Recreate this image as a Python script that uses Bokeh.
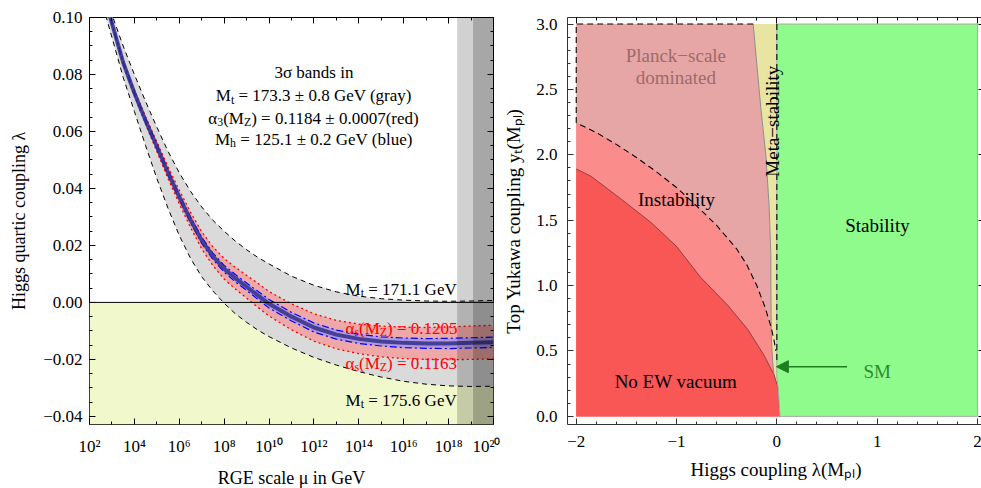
import math
import numpy as np
from bokeh.plotting import figure
from bokeh.layouts import row
from bokeh.models import (Label, BoxAnnotation, Span, Arrow, NormalHead, FixedTicker,
                          SingleIntervalTicker, LinearAxis, LogAxis, CustomJSTickFormatter, Range1d)
from bokeh.embed import file_html
from bokeh.resources import INLINE

FONT = "Liberation Serif"

# ---------------- Left panel data ----------------
log_mu = [2.24, 2.5, 3, 3.5, 4, 4.5, 5, 5.5, 6, 6.5, 7, 7.5, 8, 8.5, 9, 9.5, 10,
          11, 12, 13, 14, 15, 16, 17, 18, 19, 20]
lam_central = [0.120, 0.112, 0.098, 0.0842, 0.0735, 0.0638, 0.0547, 0.0455, 0.0370, 0.0290,
               0.0218, 0.0162, 0.0118, 0.0085, 0.0055, 0.0025, -0.0005, -0.0050, -0.0088,
               -0.0113, -0.0128, -0.0137, -0.0142, -0.0144, -0.0144, -0.0142, -0.0140]
lam_mt_1711 = [0.124, 0.115, 0.101, 0.090, 0.080, 0.0705, 0.0615, 0.053, 0.0455, 0.0390,
               0.0335, 0.0288, 0.0250, 0.0215, 0.0185, 0.0158, 0.0135, 0.0092, 0.0060,
               0.0037, 0.0022, 0.0013, 0.0008, 0.0005, 0.0004, 0.0005, 0.0007]
lam_mt_1756 = [0.116, 0.107, 0.093, 0.079, 0.067, 0.055, 0.0435, 0.033, 0.0235, 0.0155,
               0.0090, 0.0040, -0.0003, -0.0040, -0.0070, -0.0097, -0.0120, -0.0160, -0.0193,
               -0.0220, -0.0243, -0.0262, -0.0277, -0.0287, -0.0293, -0.0295, -0.0294]
lam_as_1205 = [0.1202, 0.1122, 0.0985, 0.0849, 0.0745, 0.0651, 0.0564, 0.0476, 0.0394, 0.0317,
               0.0248, 0.0195, 0.0154, 0.0123, 0.0095, 0.0067, 0.0038, -0.0005, -0.0040,
               -0.0063, -0.0076, -0.0083, -0.0087, -0.0088, -0.0086, -0.0083, -0.0080]
lam_as_1163 = [0.1198, 0.1118, 0.0975, 0.0835, 0.0725, 0.0625, 0.0530, 0.0434, 0.0346, 0.0263,
               0.0188, 0.0129, 0.0082, 0.0047, 0.0015, -0.0017, -0.0048, -0.0096, -0.0136,
               -0.0163, -0.0180, -0.0191, -0.0197, -0.0200, -0.0201, -0.0200, -0.0198]
lam_mh_hi = [0.1203, 0.1124, 0.0985, 0.0847, 0.0741, 0.0645, 0.0555, 0.0464, 0.0379, 0.0300,
             0.0229, 0.0173, 0.0130, 0.0098, 0.0068, 0.0039, 0.0010, -0.0035, -0.0072,
             -0.0097, -0.0112, -0.0121, -0.0125, -0.0127, -0.0126, -0.0124, -0.0122]
lam_mh_lo = [0.1197, 0.1116, 0.0975, 0.0837, 0.0729, 0.0631, 0.0539, 0.0446, 0.0361, 0.0280,
             0.0207, 0.0151, 0.0106, 0.0072, 0.0042, 0.0011, -0.0020, -0.0065, -0.0104,
             -0.0129, -0.0144, -0.0153, -0.0159, -0.0161, -0.0162, -0.0160, -0.0158]
log_reduced_planck = 18.38
log_planck = 19.09
x_tick_exp = [2, 4, 6, 8, 10, 12, 14, 16, 18, 20]
x_minor_exp = [3, 5, 7, 9, 11, 13, 15, 17, 19]

# ---------------- Right panel data ----------------
lam_min, lam_max, yt_max = -2.0, 2.0, 3.0
planck_x = [-2.0, -1.8, -1.6, -1.4, -1.2, -1.0, -0.8, -0.6, -0.4, -0.3, -0.2, -0.12, -0.06, -0.03, -0.01]
planck_y = [2.245, 2.17, 2.08, 1.98, 1.87, 1.75, 1.61, 1.46, 1.28, 1.16, 1.00, 0.84, 0.69, 0.59, 0.50]
noew_x = [-2.0, -1.85, -1.55, -1.26, -1.0, -0.76, -0.49, -0.29, -0.127, -0.027, 0.013, 0.03, 0.03]
noew_y = [1.892, 1.835, 1.66, 1.486, 1.30, 1.063, 0.85, 0.665, 0.466, 0.317, 0.217, 0.02, 0.0]
meta_x = [-0.236, -0.16, -0.11, -0.077, -0.06, -0.06, -0.055, -0.04, -0.027]
meta_y = [3.0, 2.36, 2.0, 1.61, 1.24, 1.0, 0.6, 0.4, 0.317]
sm_point = (0.0, 0.38)

# ---------------- text helpers ----------------
TW = {' ': 250, '!': 333, '(': 333, ')': 333, '+': 564, ',': 250, '-': 333, '.': 250, '/': 278,
      '=': 564, '±': 564, '−': 564, 'α': 520, 'σ': 540, 'λ': 500, 'μ': 500}
for c in "0123456789":
    TW[c] = 500
for c, w in zip("ABCDEFGHIJKLMNOPQRSTUVWXYZ",
                [722, 667, 667, 722, 611, 556, 722, 722, 333, 389, 722, 611, 889, 722, 722, 556,
                 722, 667, 556, 611, 722, 722, 944, 722, 722, 611]):
    TW[c] = w
for c, w in zip("abcdefghijklmnopqrstuvwxyz",
                [444, 500, 444, 500, 444, 333, 500, 500, 278, 278, 500, 278, 778, 500, 500, 500,
                 500, 333, 389, 278, 500, 500, 722, 500, 500, 444]):
    TW[c] = w
SUB = 0.7


def tw(s, fs):
    return sum(TW.get(c, 500) for c in s) * fs / 1000.0


def rich(p, x, y, segs, fs, color="black", align="center"):
    """One line of text with subscripts, drawn as consecutive Labels."""
    sizes = [fs * SUB if sub else fs for _, sub in segs]
    widths = [tw(t, s) for (t, _), s in zip(segs, sizes)]
    total = sum(widths)
    cum = -total / 2 if align == "center" else 0.0
    for (t, sub), s, w in zip(segs, sizes, widths):
        lead = len(t) - len(t.lstrip(' '))
        txt = t.strip(' ')
        off = cum + tw(' ' * lead, s)
        drop = 0.22 * fs if sub else 0.0
        p.add_layout(Label(x=x, y=y, text=txt, x_offset=off, y_offset=-drop,
                           text_font=FONT, text_font_size=f"{s:.1f}px", text_color=color,
                           text_align="left", text_baseline="alphabetic"))
        cum += w


def style_axis(ax, label_size="17px"):
    ax.major_label_text_font = FONT
    ax.major_label_text_font_size = label_size
    ax.major_label_text_color = "black"
    ax.axis_label_text_font = FONT
    ax.axis_label_text_font_size = "18px"
    ax.axis_label_text_font_style = "normal"
    ax.axis_label_text_color = "black"
    ax.major_tick_in = 6
    ax.major_tick_out = 0
    ax.minor_tick_in = 3
    ax.minor_tick_out = 0
    ax.axis_line_color = None
    ax.major_tick_line_color = "black"
    ax.minor_tick_line_color = "black"


def mirror(p, ax_cls, ticker, loc):
    ax = ax_cls(ticker=ticker)
    style_axis(ax)
    ax.major_label_text_font_size = "2px"
    ax.major_label_text_alpha = 0.0
    ax.major_label_standoff = 0
    p.add_layout(ax, loc)


# ================= LEFT PANEL =================
mu = np.power(10.0, log_mu)
p1 = figure(x_axis_type="log", x_range=Range1d(1e2, 1e20), y_range=Range1d(-0.04285, 0.1),
            frame_width=404, frame_height=407, min_border_left=89, min_border_right=7,
            min_border_top=17, min_border_bottom=64, output_backend="svg",
            toolbar_location=None, background_fill_color="white")
p1.grid.visible = False
p1.outline_line_color = "black"
p1.outline_line_width = 1

p1.add_layout(BoxAnnotation(top=0, fill_color="#F1F8CC", fill_alpha=1.0, line_color=None,
                            level="underlay"))

p1.varea(x=mu, y1=lam_mt_1756, y2=lam_mt_1711, fill_color="#DADADA")
p1.line(mu, lam_mt_1711, line_color="black", line_dash="5 4", line_width=1)
p1.line(mu, lam_mt_1756, line_color="black", line_dash="5 4", line_width=1)
p1.add_layout(Span(location=0, dimension="width", line_color="black", line_width=1))
p1.varea(x=mu, y1=lam_as_1163, y2=lam_as_1205, fill_color="#FF7F7F", fill_alpha=0.55)
p1.line(mu, lam_as_1205, line_color="#FF0000", line_dash="2 3", line_width=1.3)
p1.line(mu, lam_as_1163, line_color="#FF0000", line_dash="2 3", line_width=1.3)
p1.varea(x=mu, y1=lam_mh_lo, y2=lam_mh_hi, fill_color="#8C8CFF", fill_alpha=0.6)
p1.line(mu, lam_mh_hi, line_color="#0000FF", line_dash="7 3 2 3", line_width=1.2)
p1.line(mu, lam_mh_lo, line_color="#0000FF", line_dash="7 3 2 3", line_width=1.2)
p1.line(mu, lam_central, line_color="#30308C", line_width=4, line_alpha=0.85)

p1.add_layout(BoxAnnotation(left=10 ** log_reduced_planck, fill_color="black", fill_alpha=0.18,
                            line_color=None))
p1.add_layout(BoxAnnotation(left=10 ** log_planck, fill_color="black", fill_alpha=0.2,
                            line_color=None))

xt = FixedTicker(ticks=[10.0 ** e for e in x_tick_exp], minor_ticks=[10.0 ** e for e in x_minor_exp])
p1.xaxis.ticker = xt
p1.xaxis.formatter = CustomJSTickFormatter(code="""
const sup = {"0":"\u2070","1":"\u00b9","2":"\u00b2","3":"\u00b3","4":"\u2074","5":"\u2075","6":"\u2076","7":"\u2077","8":"\u2078","9":"\u2079"};
const e = Math.round(Math.log10(tick));
return "10" + String(e).split("").map(c => sup[c]).join("");
""")
yt1 = SingleIntervalTicker(interval=0.02, num_minor_ticks=4)
p1.yaxis.ticker = yt1
p1.yaxis.formatter = CustomJSTickFormatter(code="""
const a = Math.abs(tick) < 1e-9 ? 0 : tick;
return (a < 0 ? "\u2212" : "") + Math.abs(a).toFixed(2);
""")
for ax in p1.xaxis + p1.yaxis:
    style_axis(ax)
p1.xaxis.axis_label = "RGE scale μ in GeV"
p1.yaxis.axis_label = "Higgs quartic coupling λ"
p1.xaxis.major_label_standoff = 12
p1.yaxis.major_label_standoff = 7
p1.xaxis.axis_label_standoff = 9
p1.yaxis.axis_label_standoff = 11
mirror(p1, LogAxis, xt, "above")
mirror(p1, LinearAxis, yt1, "right")

FS = 17
x_info = 1e12
rich(p1, x_info, 0.0807, [("3σ bands in", 0)], FS)
rich(p1, x_info, 0.0725, [("M", 0), ("t", 1), (" = 173.3 ± 0.8 GeV (gray)", 0)], FS)
rich(p1, x_info, 0.0647, [("α", 0), ("3", 1), ("(M", 0), ("Z", 1), (") = 0.1184 ± 0.0007(red)", 0)], FS)
rich(p1, x_info, 0.0573, [("M", 0), ("h", 1), (" = 125.1 ± 0.2 GeV (blue)", 0)], FS)
x_lab = 10 ** 13.41
rich(p1, x_lab, 0.0046, [("M", 0), ("t", 1), (" = 171.1 GeV", 0)], FS, align="left")
rich(p1, x_lab, -0.0092, [("α", 0), ("s", 1), ("(M", 0), ("Z", 1), (") = 0.1205", 0)], FS,
     color="#FF0000", align="left")
rich(p1, x_lab, -0.0215, [("α", 0), ("s", 1), ("(M", 0), ("Z", 1), (") = 0.1163", 0)], FS,
     color="#FF0000", align="left")
rich(p1, x_lab, -0.0344, [("M", 0), ("t", 1), (" = 175.6 GeV", 0)], FS, align="left")

# ================= RIGHT PANEL =================
p2 = figure(x_range=Range1d(-2.087, 2.07), y_range=Range1d(-0.062, 3.05),
            frame_width=417, frame_height=407, min_border_left=62, min_border_right=1,
            min_border_top=17, min_border_bottom=64, output_backend="svg",
            toolbar_location=None, background_fill_color="white")
p2.grid.visible = False
p2.outline_line_color = "#333333"

# Planck-scale dominated (base)
pk_x = [lam_min, lam_min] + meta_x + [noew_x[-3], noew_x[-1]]
pk_y = [0.0, yt_max] + meta_y + [noew_y[-3], noew_y[-1]]
p2.patch(pk_x, pk_y, fill_color="#E6A6A6", line_color=None)
# Instability
in_x = [lam_min] + planck_x + [noew_x[-3], noew_x[-1]]
in_y = [0.0] + planck_y + [noew_y[-3], noew_y[-1]]
p2.patch(in_x, in_y, fill_color="#FA8C8C", line_color=None)
# Meta-stability
me_x = meta_x + [noew_x[-3], 0.0, 0.0]
me_y = meta_y + [noew_y[-3], 0.3, yt_max]
p2.patch(me_x, me_y, fill_color="#E8E4A2", line_color=None)
# No EW vacuum
ne_x = noew_x + [lam_min]
ne_y = noew_y + [0.0]
p2.patch(ne_x, ne_y, fill_color="#F95656", line_color=None)
p2.line(noew_x, noew_y, line_color="#7A3434", line_width=0.8)
# Stability
st_x = [0.0, lam_max, lam_max] + noew_x[::-1][:3] + [0.0]
st_y = [yt_max, yt_max, 0.0] + noew_y[::-1][:3] + [0.3]
p2.patch(st_x, st_y, fill_color="#8FFB8C", line_color="#A0B0A0", line_width=1)
p2.line(meta_x, meta_y, line_color="#8C8C8C", line_width=1)
# dashed boundaries
p2.line([meta_x[0], lam_min, lam_min] + planck_x, [yt_max, yt_max, planck_y[0]] + planck_y,
        line_color="black", line_dash="6 4", line_width=1.1)
p2.line([0.0, 0.0], [yt_max, 0.42], line_color="black", line_dash="6 4", line_width=1.1)

GREEN = "#1E7E1E"
p2.add_layout(Arrow(end=NormalHead(size=12, fill_color=GREEN, line_color=GREEN),
                    x_start=0.70, y_start=sm_point[1], x_end=sm_point[0] - 0.005, y_end=sm_point[1],
                    line_color=GREEN, line_width=1.6))

xt2 = SingleIntervalTicker(interval=1, num_minor_ticks=5)
yt2 = SingleIntervalTicker(interval=0.5, num_minor_ticks=5)
p2.xaxis.ticker = xt2
p2.yaxis.ticker = yt2
p2.xaxis.formatter = CustomJSTickFormatter(code="""
const a = Math.round(tick);
return (a < 0 ? "\u2212" : "") + Math.abs(a).toString();
""")
p2.yaxis.formatter = CustomJSTickFormatter(code="""
return (tick < -1e-9 ? "\u2212" : "") + Math.abs(tick).toFixed(1);
""")
for ax in p2.xaxis + p2.yaxis:
    style_axis(ax)
    ax.major_tick_line_color = "#333333"
    ax.minor_tick_line_color = "#333333"
    ax.axis_label_text_font_size = "19px"
p2.xaxis.major_label_standoff = 11
p2.yaxis.major_label_standoff = 10
p2.xaxis.axis_label_standoff = 9
p2.yaxis.axis_label_standoff = 9
p2.xaxis.axis_label = "Higgs coupling λ(M\u209a\u2097)"
p2.yaxis.axis_label = "Top Yukawa coupling y\u209c(M\u209a\u2097)"
mirror(p2, LinearAxis, xt2, "above")
mirror(p2, LinearAxis, yt2, "right")

RF = 19
p2.add_layout(Label(x=-1.007, y=2.756, text="Planck−scale", text_font=FONT, text_font_size=f"{RF}px",
                    text_color="#9C6B6B", text_align="center", text_baseline="alphabetic"))
p2.add_layout(Label(x=-1.007, y=2.589, text="dominated", text_font=FONT, text_font_size=f"{RF}px",
                    text_color="#9C6B6B", text_align="center", text_baseline="alphabetic"))
p2.add_layout(Label(x=-1.0, y=1.661, text="Instability", text_font=FONT, text_font_size=f"{RF}px",
                    text_color="black", text_align="center", text_baseline="alphabetic"))
p2.add_layout(Label(x=-0.044, y=2.257, text="Meta−stability", text_font=FONT, text_font_size=f"{RF}px",
                    text_color="black", text_align="center", text_baseline="middle", angle=math.pi / 2))
p2.add_layout(Label(x=1.003, y=1.462, text="Stability", text_font=FONT, text_font_size=f"{RF}px",
                    text_color="black", text_align="center", text_baseline="alphabetic"))
p2.add_layout(Label(x=-1.007, y=0.267, text="No EW vacuum", text_font=FONT, text_font_size=f"{RF}px",
                    text_color="black", text_align="center", text_baseline="alphabetic"))
p2.add_layout(Label(x=1.0, y=0.341, text="SM", text_font=FONT, text_font_size=f"{RF}px",
                    text_color="#2E8B2E", text_align="center", text_baseline="alphabetic"))

layout = row(p1, p2)
html = file_html(layout, INLINE, "RGE running and stability")
open("out.html", "w").write(html)
